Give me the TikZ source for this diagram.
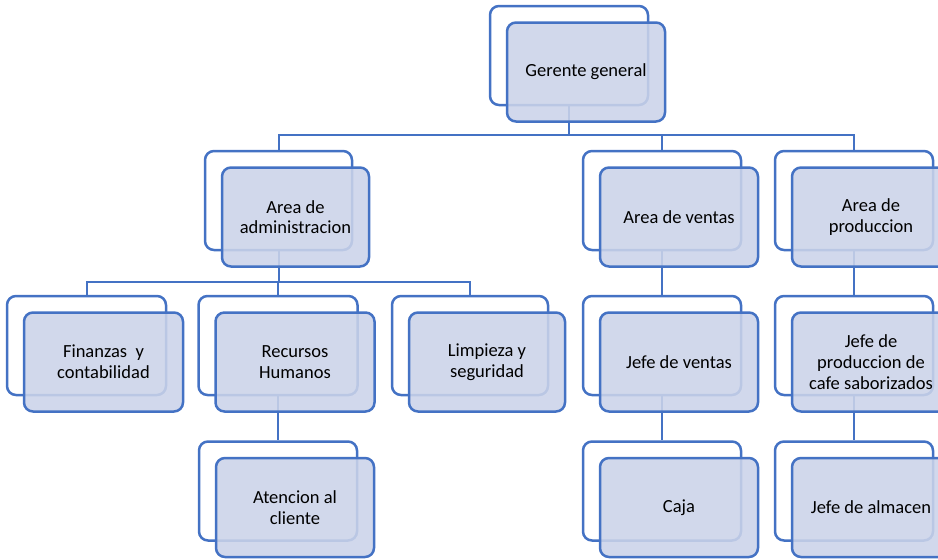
\documentclass[tikz,border=0pt]{standalone}
\usepackage{fontspec}
\setmainfont{Carlito}
\usetikzlibrary{calc}
\pgfdeclarelayer{background}
\pgfsetlayers{background,main}
\definecolor{obl}{RGB}{68,114,196}
\definecolor{ofill}{RGB}{203,211,233}
\tikzset{
  backbox/.style={draw=obl, line width=2.5pt, fill=white, rounded corners=9pt,
    minimum height=99pt, inner sep=0pt},
  frontbox/.style={draw=obl, line width=2.5pt, fill=ofill, fill opacity=0.88,
    text opacity=1, rounded corners=9pt, minimum height=99pt, inner sep=0pt,
    align=center, font=\fontsize{18.5}{20.7}\selectfont},
  conn/.style={draw=obl, line width=2pt},
}
\newcommand\orgitem[5]{%
  \node[backbox, minimum width=#4pt] (#1) at (#2,#3) {};
  \node[frontbox, minimum width=#4pt] (#1f) at ($(#1)+(17,16.5)$) {#5};
}
\begin{document}
\begin{tikzpicture}[x=1pt,y=-1pt]
\clip (0,0) rectangle (938,560);
\orgitem{g}{569}{55.5}{158}{Gerente general}
\orgitem{a}{278.5}{200.5}{147}{Area de\\administracion}
\orgitem{v}{662}{200.5}{158}{Area de ventas}
\orgitem{p}{854}{200.5}{158}{Area de\\produccion}
\orgitem{fi}{86.5}{345.5}{159}{Finanzas~ y\\contabilidad}
\orgitem{rh}{278}{345.5}{159}{Recursos\\Humanos}
\orgitem{li}{470}{345.5}{156}{Limpieza y\\seguridad}
\orgitem{jv}{662}{345.5}{158}{Jefe de ventas}
\orgitem{jp}{854}{345.5}{158}{Jefe de\\produccion de\\cafe saborizados}
\orgitem{ac}{278}{491}{158}{Atencion al\\cliente}
\orgitem{ca}{662}{491}{158}{Caja}
\orgitem{ja}{854}{491}{158}{Jefe de almacen}
\coordinate (bus1) at (0,135);
\coordinate (bus2) at (0,282);
\begin{pgfonlayer}{background}
\draw[conn] (g.south) -- (g.south |- bus1);
\draw[conn] (a.north) |- (p.north |- bus1) -- (p.north);
\draw[conn] (v.north) -- (v.north |- bus1);
\draw[conn] (a.south) -- (a.south |- bus2);
\draw[conn] (fi.north) |- (li.north |- bus2) -- (li.north);
\draw[conn] (rh.north) -- (rh.north |- bus2);
\draw[conn] (rh.south) -- (ac.north);
\draw[conn] (v.south) -- (jv.north);
\draw[conn] (jv.south) -- (ca.north);
\draw[conn] (p.south) -- (jp.north);
\draw[conn] (jp.south) -- (ja.north);
\end{pgfonlayer}
\end{tikzpicture}
\end{document}
